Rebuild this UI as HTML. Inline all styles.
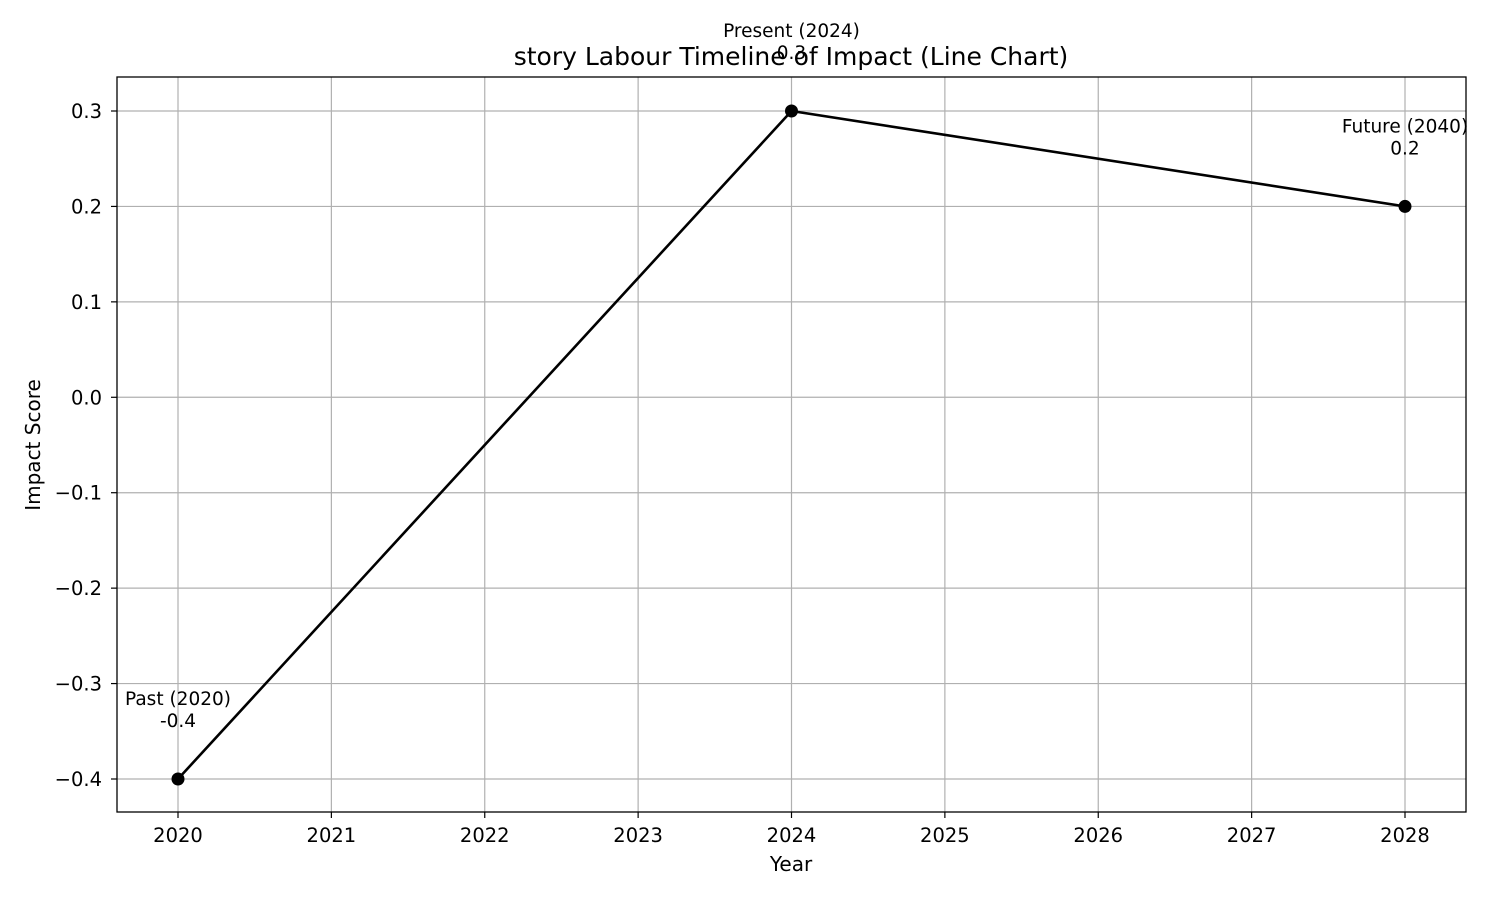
<!DOCTYPE html>
<html><head><meta charset="utf-8"><style>
body{margin:0;background:#fff;font-family:"DejaVu Sans","Liberation Sans",sans-serif}
svg text{font-family:"DejaVu Sans","Liberation Sans",sans-serif}
</style></head><body>
<svg id="chart" width="1500" height="900" viewBox="0 0 1500 900" xmlns="http://www.w3.org/2000/svg">
<rect width="1500" height="900" fill="#fff"/>
<g id="grid"></g>
<g id="ticks"></g>
<g id="series"></g>
<rect x="117" y="77" width="1349" height="735" fill="none" stroke="#000" stroke-width="1.3"/>
<text x="791" y="65" font-size="25" text-anchor="middle">story Labour Timeline of Impact (Line Chart)</text>
<text x="791" y="871" font-size="20" text-anchor="middle">Year</text>
<text x="40" y="445" font-size="20" text-anchor="middle" transform="rotate(-90 40 445)">Impact Score</text>
</svg>
<script>
const years=[2020,2024,2028];
const scores=[-0.4,0.3,0.2];
const labels=["Past (2020)","Present (2024)","Future (2040)"];
const valueLabels=["-0.4","0.3","0.2"];
const xTicks=[2020,2021,2022,2023,2024,2025,2026,2027,2028];
const yTicks=[-0.4,-0.3,-0.2,-0.1,0.0,0.1,0.2,0.3];
const yTickLabels=["\u22120.4","\u22120.3","\u22120.2","\u22120.1","0.0","0.1","0.2","0.3"];
const NS="http://www.w3.org/2000/svg";
const L=117,R=1466,T=77,B=812;
const x=v=>178+(v-2020)*(1405-178)/8;
const y=v=>779+(v+0.4)*(111-779)/0.7;
function mk(tag,attrs,parent){const e=document.createElementNS(NS,tag);for(const k in attrs)e.setAttribute(k,attrs[k]);parent.appendChild(e);return e;}
const grid=document.getElementById('grid'),ticks=document.getElementById('ticks'),series=document.getElementById('series');
xTicks.forEach(t=>{
 const g=mk('line',{x1:x(t),x2:x(t),y1:T,y2:B,stroke:'#b0b0b0','stroke-width':1.2},grid);
 
 
 const tk=mk('line',{x1:x(t),x2:x(t),y1:B,y2:B+6,stroke:'#000','stroke-width':1.2},ticks);
 
 
 const tx=mk('text',{x:x(t),y:B+30,'font-size':19.5,'text-anchor':'middle'},ticks);
 tx.textContent=t;
 
 
});
yTicks.forEach((t,i)=>{
 const g=mk('line',{x1:L,x2:R,y1:y(t),y2:y(t),stroke:'#b0b0b0','stroke-width':1.2},grid);
 
 
 const tk=mk('line',{x1:L-6,x2:L,y1:y(t),y2:y(t),stroke:'#000','stroke-width':1.2},ticks);
 
 
 const tx=mk('text',{x:L-15,y:y(t)+7,'font-size':19.5,'text-anchor':'end'},ticks);
 tx.textContent=yTickLabels[i];
 
 
});
const line=mk('polyline',{points:years.map((v,i)=>x(v)+','+y(scores[i])).join(' '),fill:'none',stroke:'#000','stroke-width':2.6},series);


years.forEach((v,i)=>{
 const c=mk('circle',{cx:x(v),cy:y(scores[i]),r:6.5,fill:'#000'},series);
 
 
 const a=mk('text',{x:x(v),y:y(scores[i])-74,'font-size':18.5,'text-anchor':'middle'},series);
 a.textContent=labels[i];
 
 
 const b=mk('text',{x:x(v),y:y(scores[i])-52,'font-size':18.5,'text-anchor':'middle'},series);
 b.textContent=valueLabels[i];
 
 
});
</script>
</body></html>
